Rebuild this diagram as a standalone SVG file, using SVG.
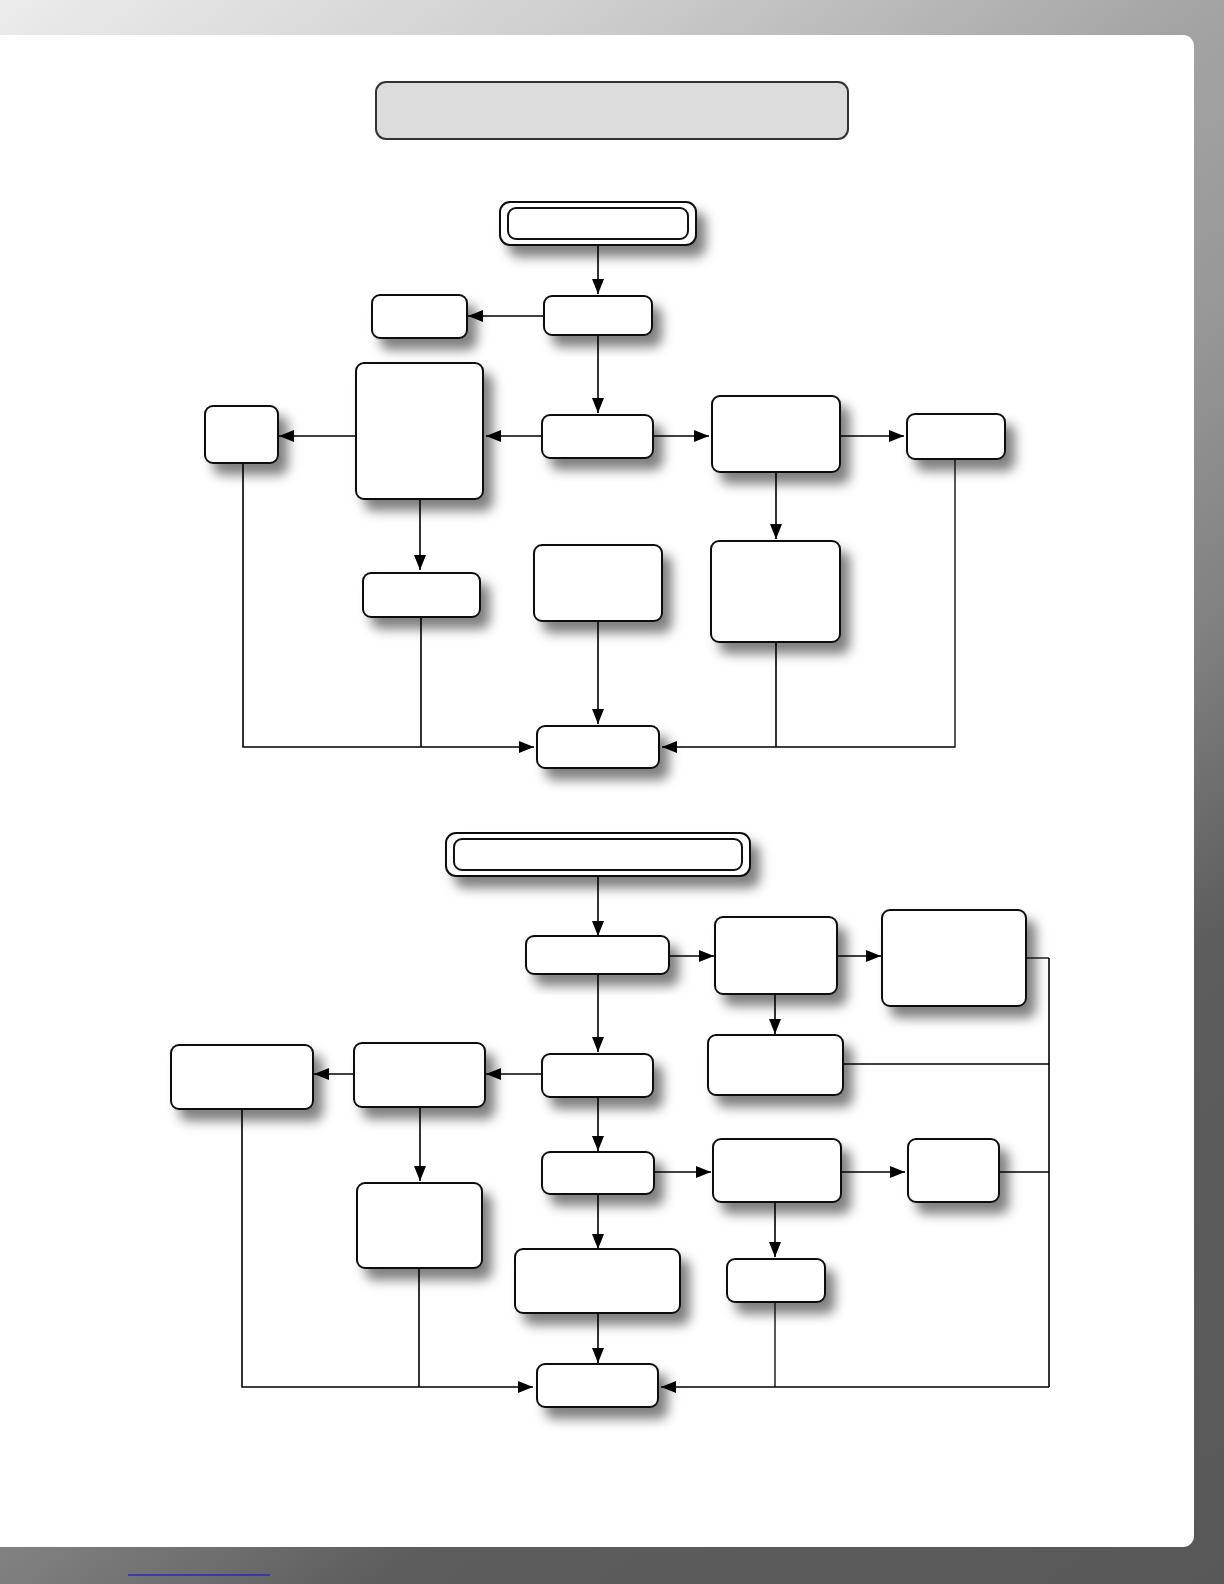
<svg xmlns="http://www.w3.org/2000/svg" width="1224" height="1584" viewBox="0 0 1224 1584">
<defs>
<linearGradient id="frame" gradientUnits="userSpaceOnUse" x1="0" y1="0" x2="1224" y2="1584">
<stop offset="0" stop-color="#ececec"/>
<stop offset="0.18" stop-color="#cfcfcf"/>
<stop offset="0.37" stop-color="#a4a4a4"/>
<stop offset="0.49" stop-color="#989898"/>
<stop offset="0.62" stop-color="#808080"/>
<stop offset="0.74" stop-color="#5d5d5d"/>
<stop offset="1" stop-color="#585858"/>
</linearGradient>
<filter id="sh" x="-25%" y="-25%" width="160%" height="180%">
<feDropShadow dx="9" dy="11" stdDeviation="6" flood-color="#000" flood-opacity="0.5"/>
</filter>
<marker id="ah" markerUnits="userSpaceOnUse" markerWidth="16" markerHeight="12" refX="15" refY="6" orient="auto">
<path d="M0,0 L15,6 L0,12 Z" fill="#000"/>
</marker>
<style>
.n{fill:#fff;stroke:#111;stroke-width:2;filter:url(#sh)}
.ni{fill:#fff;stroke:#111;stroke-width:2}
.a{fill:none;stroke:#000;stroke-width:1.6;marker-end:url(#ah)}
.l{fill:none;stroke:#000;stroke-width:1.6}
.t{fill:none;stroke:#000;stroke-width:1.3}
</style>
</defs>
<rect x="0" y="0" width="1224" height="1584" fill="url(#frame)"/>
<rect x="-20" y="35" width="1214" height="1512" rx="11" fill="#fff"/>
<line x1="128" y1="1575" x2="270" y2="1575" stroke="#2a2ab8" stroke-width="1.5"/>

<g id="title"><rect x="376" y="82" width="472" height="57" rx="10" fill="#dcdcdc" stroke="#333" stroke-width="2"/></g>

<g id="connectors">
<path class="a" d="M598,245 V294"/>
<path class="a" d="M544,316 H468"/>
<path class="a" d="M598,335 V413"/>
<path class="a" d="M542,436 H486"/>
<path class="a" d="M356,436 H279"/>
<path class="a" d="M653,436 H709"/>
<path class="a" d="M840,436 H904"/>
<path class="a" d="M776,472 V539"/>
<path class="a" d="M420,499 V570"/>
<path class="a" d="M598,621 V724"/>
<path class="l" d="M243,463 V747 H534" marker-end="url(#ah)"/>
<path class="l" d="M421,617 V747"/>
<path class="l" d="M776,642 V747"/>
<path class="t" d="M955,459 V747 H662" marker-end="url(#ah)"/>
<path class="a" d="M598,876 V936"/>
<path class="a" d="M669,956 H714"/>
<path class="a" d="M837,956 H881"/>
<path class="a" d="M775,994 V1034"/>
<path class="a" d="M598,974 V1052"/>
<path class="a" d="M542,1074 H486"/>
<path class="a" d="M354,1074 H314"/>
<path class="a" d="M420,1107 V1181"/>
<path class="a" d="M598,1097 V1151"/>
<path class="a" d="M654,1172 H711"/>
<path class="a" d="M841,1172 H905"/>
<path class="a" d="M775,1202 V1257"/>
<path class="a" d="M598,1194 V1249"/>
<path class="a" d="M598,1313 V1363"/>
<path class="l" d="M242,1109 V1387 H533" marker-end="url(#ah)"/>
<path class="l" d="M419,1268 V1387"/>
<path class="t" d="M775,1302 V1387"/>
<path class="t" d="M1026,958 H1049"/>
<path class="l" d="M1049,958 V1387"/>
<path class="t" d="M843,1064 H1049"/>
<path class="t" d="M999,1172 H1049"/>
<path class="t" d="M1049,1387 H661" marker-end="url(#ah)"/>
</g>

<g id="start1"><rect class="n" x="500" y="202" width="196" height="43" rx="10"/><rect class="ni" x="508" y="208" width="180" height="31" rx="8"/></g>
<g id="a1"><rect class="n" x="544" y="296" width="108" height="39" rx="8"/></g>
<g id="b1"><rect class="n" x="372" y="295" width="95" height="43" rx="8"/></g>
<g id="c1"><rect class="n" x="356" y="363" width="127" height="136" rx="8"/></g>
<g id="d1"><rect class="n" x="205" y="406" width="73" height="57" rx="8"/></g>
<g id="e1"><rect class="n" x="542" y="415" width="111" height="43" rx="8"/></g>
<g id="f1"><rect class="n" x="712" y="396" width="128" height="76" rx="8"/></g>
<g id="g1"><rect class="n" x="907" y="414" width="98" height="45" rx="8"/></g>
<g id="h1"><rect class="n" x="711" y="541" width="129" height="101" rx="8"/></g>
<g id="i1"><rect class="n" x="363" y="573" width="117" height="44" rx="8"/></g>
<g id="j1"><rect class="n" x="534" y="545" width="128" height="76" rx="8"/></g>
<g id="k1"><rect class="n" x="537" y="726" width="122" height="42" rx="8"/></g>

<g id="start2"><rect class="n" x="446" y="833" width="304" height="43" rx="10"/><rect class="ni" x="454" y="839" width="288" height="31" rx="8"/></g>
<g id="l2"><rect class="n" x="526" y="936" width="143" height="38" rx="8"/></g>
<g id="m2"><rect class="n" x="715" y="917" width="122" height="77" rx="8"/></g>
<g id="n2"><rect class="n" x="882" y="910" width="144" height="96" rx="8"/></g>
<g id="o2"><rect class="n" x="708" y="1035" width="135" height="60" rx="8"/></g>
<g id="p2"><rect class="n" x="542" y="1054" width="111" height="43" rx="8"/></g>
<g id="r2"><rect class="n" x="354" y="1043" width="131" height="64" rx="8"/></g>
<g id="q2"><rect class="n" x="171" y="1045" width="142" height="64" rx="8"/></g>
<g id="s2"><rect class="n" x="357" y="1183" width="125" height="85" rx="8"/></g>
<g id="t2"><rect class="n" x="542" y="1152" width="112" height="42" rx="8"/></g>
<g id="v2"><rect class="n" x="713" y="1139" width="128" height="63" rx="8"/></g>
<g id="w2"><rect class="n" x="908" y="1139" width="91" height="63" rx="8"/></g>
<g id="u2"><rect class="n" x="515" y="1249" width="165" height="64" rx="8"/></g>
<g id="x2"><rect class="n" x="727" y="1259" width="98" height="43" rx="8"/></g>
<g id="y2"><rect class="n" x="537" y="1364" width="121" height="43" rx="8"/></g>
</svg>
